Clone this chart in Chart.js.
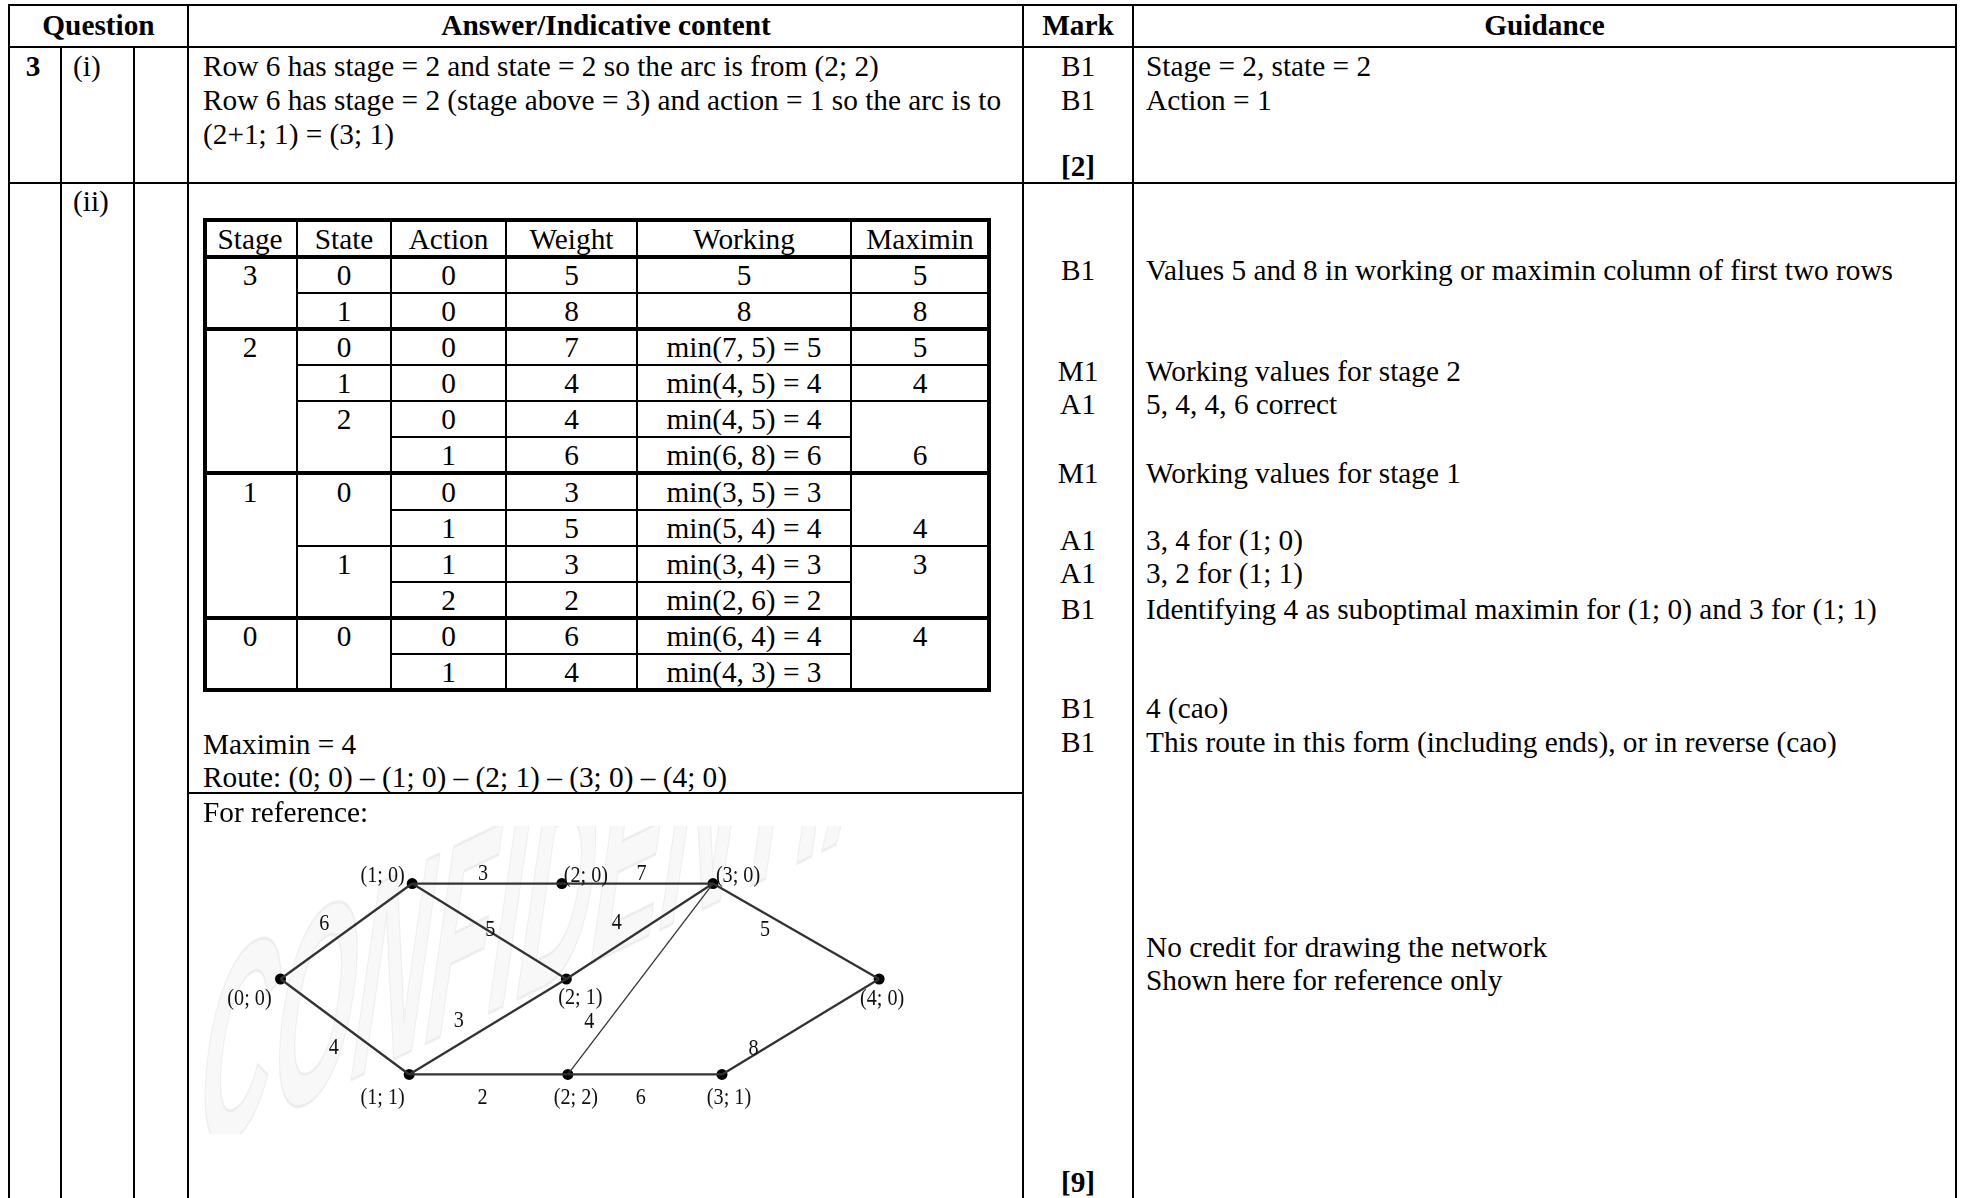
<!DOCTYPE html>
<html><head><meta charset="utf-8">
<script src="https://cdn.jsdelivr.net/npm/chart.js@4.4.1/dist/chart.umd.min.js"></script>
<style>
html,body{margin:0;padding:0;background:#fff;}
#page{position:relative;width:1961px;height:1198px;overflow:hidden;font-family:"Liberation Serif","Times New Roman",serif;font-size:29.3px;color:#000;}
.t{position:absolute;white-space:nowrap;line-height:34px;height:34px;}
.b{font-weight:bold;}
.c{text-align:center;}
.l{position:absolute;background:#000;}
#net{position:absolute;left:203px;top:826px;}
</style></head><body><div id="page"><canvas id="net" width="800" height="308"></canvas></div>
<script>
// ---------- data ----------
const headers = ['Question', 'Answer/Indicative content', 'Mark', 'Guidance'];
const questionNo = '3';
const partLabels = ['(i)', '(ii)'];
const partIAnswer = [
  'Row 6 has stage = 2 and state = 2 so the arc is from (2; 2)',
  'Row 6 has stage = 2 (stage above = 3) and action = 1 so the arc is to',
  '(2+1; 1) = (3; 1)'
];
const partIMarks = ['B1', 'B1'];
const partIGuidance = ['Stage = 2, state = 2', 'Action = 1'];
const partITotal = '[2]';

const tableHeaders = ['Stage', 'State', 'Action', 'Weight', 'Working', 'Maximin'];
const rowStage   = [3, 3, 2, 2, 2, 2, 1, 1, 1, 1, 0, 0];
const rowState   = [0, 1, 0, 1, 2, 2, 0, 0, 1, 1, 0, 0];
const rowAction  = [0, 0, 0, 0, 0, 1, 0, 1, 1, 2, 0, 1];
const rowWeight  = [5, 8, 7, 4, 4, 6, 3, 5, 3, 2, 6, 4];
const rowWorking = ['5', '8', 'min(7, 5) = 5', 'min(4, 5) = 4', 'min(4, 5) = 4', 'min(6, 8) = 6',
                    'min(3, 5) = 3', 'min(5, 4) = 4', 'min(3, 4) = 3', 'min(2, 6) = 2', 'min(6, 4) = 4', 'min(4, 3) = 3'];
const rowMaximin = ['5', '8', '5', '4', '', '6', '', '4', '3', '', '4', ''];

const answerLines = ['Maximin = 4', 'Route: (0; 0) \u2013 (1; 0) \u2013 (2; 1) \u2013 (3; 0) \u2013 (4; 0)'];
const referenceTitle = 'For reference:';
const partIIMarks = ['B1', 'M1', 'A1', 'M1', 'A1', 'A1', 'B1', 'B1', 'B1'];
const partIIGuidance = [
  'Values 5 and 8 in working or maximin column of first two rows',
  'Working values for stage 2',
  '5, 4, 4, 6 correct',
  'Working values for stage 1',
  '3, 4 for (1; 0)',
  '3, 2 for (1; 1)',
  'Identifying 4 as suboptimal maximin for (1; 0) and 3 for (1; 1)',
  '4 (cao)',
  'This route in this form (including ends), or in reverse (cao)'
];
const noteLines = ['No credit for drawing the network', 'Shown here for reference only'];
const partIITotal = '[9]';
const watermarkText = 'CONFIDENTIAL';

// network
const nodeLabels = ['(0; 0)', '(1; 0)', '(1; 1)', '(2; 0)', '(2; 1)', '(2; 2)', '(3; 0)', '(3; 1)', '(4; 0)'];
const nodeX = [0, 0.88, 0.86, 1.88, 1.91, 1.92, 2.89, 2.95, 4];
const nodeY = [0, 1, -1, 1, 0, -1, 1, -1, 0];
const edgeFrom   = [0, 0, 1, 1, 2, 2, 3, 4, 5, 5, 6, 7];
const edgeTo     = [1, 2, 3, 4, 4, 5, 6, 6, 6, 7, 8, 8];
const edgeWeight = [6, 4, 3, 5, 3, 2, 7, 4, 4, 6, 5, 8];

// ---------- layout (positions / styles only) ----------
const page = document.getElementById('page');
function line(x, y, w, h) {
  const d = document.createElement('div'); d.className = 'l';
  d.style.left = x + 'px'; d.style.top = y + 'px'; d.style.width = w + 'px'; d.style.height = h + 'px';
  page.appendChild(d);
}
function txt(s, x, y, opt) {
  opt = opt || {};
  const d = document.createElement('div');
  d.className = 't' + (opt.bold ? ' b' : '') + (opt.w ? ' c' : '');
  d.textContent = s;
  d.style.top = (y - 17) + 'px';
  d.style.left = x + 'px';
  if (opt.w) d.style.width = opt.w + 'px';
  page.appendChild(d);
}
// outer grid
line(8, 4, 1949, 2);
line(8, 46, 1949, 2);
line(8, 182, 1949, 2);
line(8, 4, 2, 1194);
line(1955, 4, 2, 1194);
line(60, 46, 2, 1152);
line(133, 46, 2, 1152);
line(187, 4, 2, 1194);
line(1022, 4, 2, 1194);
line(1132, 4, 2, 1194);
line(187, 792, 836, 2);

// headers
txt(headers[0], 9, 25, {bold: 1, w: 179});
txt(headers[1], 189, 25, {bold: 1, w: 834});
txt(headers[2], 1023, 25, {bold: 1, w: 110});
txt(headers[3], 1133, 25, {bold: 1, w: 823});
// part (i)
txt(questionNo, 8, 66, {bold: 1, w: 50});
txt(partLabels[0], 73, 66);
txt(partLabels[1], 73, 201);
const pIy = [66, 100, 134];
partIAnswer.forEach((s, i) => txt(s, 203, pIy[i]));
partIMarks.forEach((s, i) => txt(s, 1023, pIy[i], {w: 110}));
partIGuidance.forEach((s, i) => txt(s, 1146, pIy[i]));
txt(partITotal, 1023, 166, {bold: 1, w: 110});
// part (ii) marks & guidance
const pIIy = [270, 371, 404, 473, 540, 573, 609, 708, 742];
partIIMarks.forEach((s, i) => txt(s, 1023, pIIy[i], {w: 110}));
partIIGuidance.forEach((s, i) => txt(s, 1146, pIIy[i]));
txt(noteLines[0], 1146, 947);
txt(noteLines[1], 1146, 980);
txt(partIITotal, 1023, 1182, {bold: 1, w: 110});
txt(answerLines[0], 203, 744);
txt(answerLines[1], 203, 777);
txt(referenceTitle, 203, 812);

// inner table
const tcx = [203, 297, 391, 506, 637, 851, 989];
const tTop = 218, tHead = 257, rowH = 36.08, nRows = rowStage.length;
const tBot = tHead + rowH * nRows;
line(tcx[0], tTop, tcx[6] - tcx[0] + 2, 4);
line(tcx[0], tBot - 2, tcx[6] - tcx[0] + 2, 4);
line(tcx[0], tTop, 4, tBot - tTop + 2);
line(tcx[6] - 2, tTop, 4, tBot - tTop + 2);
line(tcx[0], tHead - 2, tcx[6] - tcx[0] + 2, 4);
for (let c = 1; c < 6; c++) line(tcx[c] - 1, tTop, 2, tBot - tTop);
tableHeaders.forEach((s, c) => txt(s, tcx[c], (tTop + tHead) / 2 + 1, {w: tcx[c + 1] - tcx[c]}));
for (let i = 0; i < nRows; i++) {
  const cy = tHead + rowH * (i + 0.5);
  const newStage = i === 0 || rowStage[i] !== rowStage[i - 1];
  const newState = newStage || rowState[i] !== rowState[i - 1];
  if (newStage) txt(String(rowStage[i]), tcx[0], cy, {w: tcx[1] - tcx[0]});
  if (newState) txt(String(rowState[i]), tcx[1], cy, {w: tcx[2] - tcx[1]});
  txt(String(rowAction[i]), tcx[2], cy, {w: tcx[3] - tcx[2]});
  txt(String(rowWeight[i]), tcx[3], cy, {w: tcx[4] - tcx[3]});
  txt(rowWorking[i], tcx[4], cy, {w: tcx[5] - tcx[4]});
  if (rowMaximin[i]) txt(rowMaximin[i], tcx[5], cy, {w: tcx[6] - tcx[5]});
  if (i > 0) {
    const y = tHead + rowH * i;
    if (newStage) line(tcx[0], y - 2, tcx[6] - tcx[0], 4);
    else if (newState) line(tcx[1], y - 1, tcx[6] - tcx[1], 2);
    else line(tcx[2], y - 1, tcx[5] - tcx[2], 2);
  }
}

// ---------- network chart ----------
const nodeLabelOffset = [[-31, 20], [-29.5, -8], [-26.5, 23], [24, -8], [14, 19], [8, 23], [25, -8], [7, 23], [3, 20]];
const edgeLabelOffset = [[-22, -8], [-11, 21], [-4, -10], [1, -2], [-29, -6], [-6, 23], [4, -10], [-23, -9], [-51, 43], [-4, 23], [-31, -2], [-47, 22]];
const edgeWidth = [2.3, 2.3, 2.3, 2.3, 2.3, 2.3, 2.3, 2.3, 1.3, 2.3, 2.3, 2.3];

const datasets = edgeFrom.map((f, i) => ({
  type: 'scatter', showLine: true,
  data: [{x: nodeX[f], y: nodeY[f]}, {x: nodeX[edgeTo[i]], y: nodeY[edgeTo[i]]}],
  borderColor: '#333', borderWidth: edgeWidth[i], pointRadius: 0, fill: false
}));
datasets.push({
  type: 'scatter', showLine: false,
  data: nodeX.map((x, i) => ({x: x, y: nodeY[i]})),
  pointRadius: 5.5, pointBackgroundColor: '#000', pointBorderWidth: 0
});

function condensedText(ctx, s, x, y, sx) {
  ctx.save();
  ctx.translate(x, y);
  ctx.scale(sx, 1);
  ctx.fillText(s, 0, 0);
  ctx.restore();
}

const labelPlugin = {
  id: 'netLabels',
  beforeDatasetsDraw(chart) {
    const ctx = chart.ctx;
    ctx.save();
    ctx.translate(-8, 330);
    ctx.scale(0.4, 1);
    ctx.rotate(-11 * Math.PI / 180);
    ctx.transform(1, 0, -0.4, 1, 0, 0);
    ctx.font = 'italic bold 262px "Liberation Sans", Arial, sans-serif';
    ctx.fillStyle = 'rgba(0,0,0,0.028)';
    ctx.strokeStyle = 'rgba(0,0,0,0.06)';
    ctx.lineWidth = 3;
    ctx.fillText(watermarkText, 0, 0);
    ctx.strokeText(watermarkText, 0, 0);
    ctx.restore();
  },
  afterDatasetsDraw(chart) {
    const ctx = chart.ctx, xs = chart.scales.x, ys = chart.scales.y;
    ctx.save();
    ctx.fillStyle = '#111';
    ctx.font = '24px "Liberation Serif", "Times New Roman", serif';
    ctx.textAlign = 'center'; ctx.textBaseline = 'middle';
    nodeLabels.forEach((s, i) => {
      condensedText(ctx, s, xs.getPixelForValue(nodeX[i]) + nodeLabelOffset[i][0], ys.getPixelForValue(nodeY[i]) + nodeLabelOffset[i][1], 0.84);
    });
    edgeWeight.forEach((w, i) => {
      const a = edgeFrom[i], b = edgeTo[i];
      const mx = (xs.getPixelForValue(nodeX[a]) + xs.getPixelForValue(nodeX[b])) / 2;
      const my = (ys.getPixelForValue(nodeY[a]) + ys.getPixelForValue(nodeY[b])) / 2;
      condensedText(ctx, String(w), mx + edgeLabelOffset[i][0], my + edgeLabelOffset[i][1], 0.84);
    });
    ctx.restore();
  }
};

new Chart(document.getElementById('net'), {
  type: 'scatter',
  data: {datasets: datasets},
  options: {
    responsive: false, animation: false, devicePixelRatio: 1,
    layout: {padding: 0},
    plugins: {legend: {display: false}, tooltip: {enabled: false}},
    scales: {
      x: {type: 'linear', display: false, min: -0.481, max: 4.791},
      y: {type: 'linear', display: false, min: -1.566, max: 1.545}
    }
  },
  plugins: [labelPlugin]
});
</script></body></html>
